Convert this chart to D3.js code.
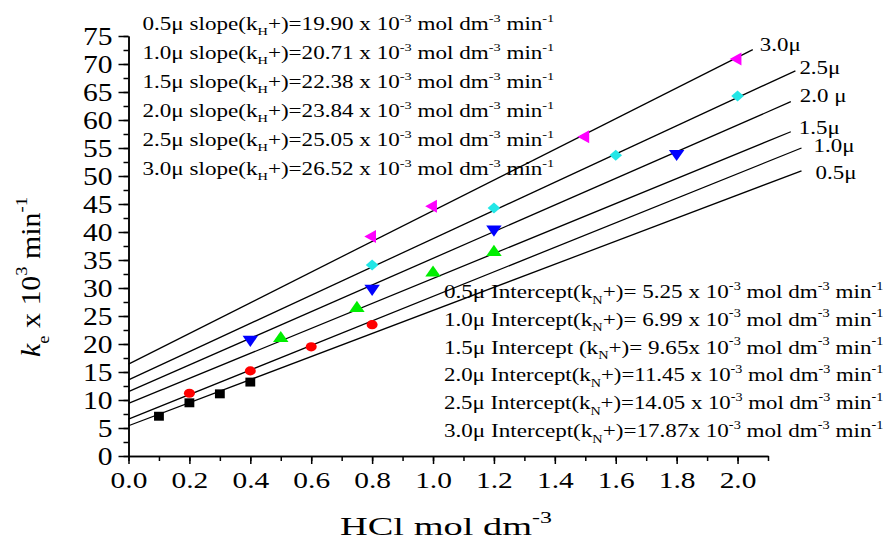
<!DOCTYPE html>
<html>
<head>
<meta charset="utf-8">
<script src="https://cdn.jsdelivr.net/npm/d3@7"></script>
<style>
  html, body { margin: 0; padding: 0; background: #fff; }
  svg text { white-space: pre; }
</style>
</head>
<body>
<svg id="chart" width="889" height="542"></svg>
<script>
// ---------------- data ----------------
const seriesNames = ["0.5μ", "1.0μ", "1.5μ", "2.0μ", "2.5μ", "3.0μ"];
const lineLabels  = ["0.5μ", "1.0μ", "1.5μ", "2.0 μ", "2.5μ", "3.0μ"];
const x05 = [0.1, 0.2, 0.3, 0.4],   y05 = [7.1, 9.5, 11.1, 13.2];
const x10 = [0.2, 0.4, 0.6, 0.8],   y10 = [11.2, 15.2, 19.5, 23.45];
const x15 = [0.5, 0.75, 1.0, 1.2],  y15 = [21.0, 26.4, 32.7, 36.4];
const x20 = [0.4, 0.8, 1.2, 1.8],   y20 = [20.8, 29.9, 40.5, 54.0];
const x25 = [0.8, 1.2, 1.6, 2.0],   y25 = [34.1, 44.3, 53.7, 64.3];
const x30 = [0.8, 1.0, 1.5, 2.0],   y30 = [39.2, 44.6, 57.0, 70.9];
// fitted lines as drawn in the picture
const lineIntercepts = [5.4, 6.6, 9.4, 11.5, 13.6, 16.4];
const lineSlopes     = [20.6, 21.9, 22.3, 23.8, 25.2, 27.4];
const lineXEnd       = [2.21, 2.21, 2.175, 2.175, 2.19, 2.05];
// annotation values
const slopeTexts = ["19.90", "20.71", "22.38", "23.84", "25.05", "26.52"];
const interceptPrefix = ["Intercept(k", "Intercept(k", "Intercept (k", "Intercept(k", "Intercept(k", "Intercept(k"];
const interceptTexts = ["= 5.25 x 10", "= 6.99 x 10", "= 9.65x 10", "=11.45 x 10", "=14.05 x 10", "=17.87x 10"];
const xTickValues = [0.0, 0.2, 0.4, 0.6, 0.8, 1.0, 1.2, 1.4, 1.6, 1.8, 2.0];
const yTickValues = [0, 5, 10, 15, 20, 25, 30, 35, 40, 45, 50, 55, 60, 65, 70, 75];

// ---------------- setup ----------------
const FONT = "'Liberation Serif','Times New Roman',Times,serif";
const colors = ["#000000", "#ff0000", "#00ee00", "#0000ff", "#22e6e6", "#ff00ff"];
const svg = d3.select("#chart");

const x = d3.scaleLinear().domain([0, 2.1]).range([128.5, 768]);
const y = d3.scaleLinear().domain([0, 75]).range([456, 36]);

function rich(parent, parts, o) {
  const g = parent.append("g");
  const t = g.append("text")
    .attr("font-family", FONT)
    .attr("font-size", o.size)
    .attr("fill", "#000")
    .attr("text-anchor", "start");
  let cur = 0;
  parts.forEach(p => {
    const ts = t.append("tspan").text(p.t);
    let target = 0;
    if (p.k === "sub") { ts.attr("font-size", o.size * 0.62); target = o.size * 0.3; }
    else if (p.k === "sup") { ts.attr("font-size", o.size * 0.62); target = -o.size * 0.45; }
    ts.attr("dy", target - cur);
    cur = target;
    if (p.i) ts.attr("font-style", "italic");
  });
  const w = t.node().getBBox().width;
  const s = o.width ? o.width / w : (o.sx || 1);
  const shift = o.anchor === "middle" ? -w / 2 : 0;
  if (o.rotate) {
    g.attr("transform", `translate(${o.x},${o.y}) scale(${o.sx || 1},${s}) rotate(-90) translate(${shift},0)`);
  } else {
    g.attr("transform", `translate(${o.x},${o.y}) scale(${s},1) translate(${shift},0)`);
  }
  return g;
}

// ---------------- axes ----------------
const axisG = svg.append("g");

// y minor
axisG.append("g").attr("transform", `translate(${x(0)},0)`)
  .call(d3.axisLeft(y).tickValues(d3.range(0, 31).map(i => i * 2.5)).tickSize(5).tickSizeOuter(0).tickFormat(""))
  .call(g => g.selectAll("line,path").attr("stroke", "#000").attr("stroke-width", 1.5));
// y major
const yAx = axisG.append("g").attr("transform", `translate(${x(0)},0)`)
  .call(d3.axisLeft(y).tickValues(yTickValues).tickSize(10).tickSizeOuter(0).tickPadding(0))
  .call(g => g.selectAll("line,path").attr("stroke", "#000").attr("stroke-width", 1.5));
yAx.selectAll("text")
  .attr("font-family", FONT).attr("font-size", 25.5).attr("fill", "#000")
  .attr("x", 0).attr("dy", "0.34em")
  .attr("transform", "translate(-16,0) scale(1.16,1)");

// x minor
axisG.append("g").attr("transform", `translate(0,${y(0)})`)
  .call(d3.axisBottom(x).tickValues(d3.range(0, 22).map(i => i / 10)).tickSize(5).tickSizeOuter(0).tickFormat(""))
  .call(g => g.selectAll("line,path").attr("stroke", "#000").attr("stroke-width", 1.5));
// x major
const xAx = axisG.append("g").attr("transform", `translate(0,${y(0)})`)
  .call(d3.axisBottom(x).tickValues(xTickValues).tickSize(8).tickSizeOuter(0).tickFormat(d3.format(".1f")))
  .call(g => g.selectAll("line,path").attr("stroke", "#000").attr("stroke-width", 1.5));
xAx.selectAll("text")
  .attr("font-family", FONT).attr("font-size", 23).attr("fill", "#000")
  .attr("y", 0).attr("dy", 0)
  .attr("transform", "translate(0,31.5) scale(1.28,1)");

// ---------------- fitted lines ----------------
const lineGen = d3.line().x(d => x(d[0])).y(d => y(d[1]));
seriesNames.forEach((n, i) => {
  const pts = [0, lineXEnd[i]].map(v => [v, lineIntercepts[i] + lineSlopes[i] * v]);
  svg.append("path").attr("d", lineGen(pts))
    .attr("fill", "none").attr("stroke", "#000").attr("stroke-width", 1.3);
});

// line end labels
const labelOffsets = [[14, 8], [12, 4], [8, 2], [9, 0], [4, 3], [7, 1]];
seriesNames.forEach((n, i) => {
  const xe = lineXEnd[i];
  const ye = lineIntercepts[i] + lineSlopes[i] * xe;
  rich(svg, [{t: lineLabels[i]}], {x: x(xe) + labelOffsets[i][0], y: y(ye) + labelOffsets[i][1], size: 18.5, sx: 1.24});
});

// ---------------- markers ----------------
const xs = [x05, x10, x15, x20, x25, x30];
const ys = [y05, y10, y15, y20, y25, y30];
const symDefs = [
  {type: d3.symbolSquare, size: 80, rot: 0, sx: 1.1},
  {type: d3.symbolCircle, size: 66, rot: 0, sx: 1.2},
  {type: d3.symbolTriangle, size: 72, rot: 0, sx: 1.2},
  {type: d3.symbolTriangle, size: 72, rot: 180, sx: 1.2},
  {type: d3.symbolSquare, size: 60, rot: 45, sx: 1.15},
  {type: d3.symbolTriangle, size: 72, rot: -90, sx: 1.05}
];
seriesNames.forEach((n, i) => {
  const pts = xs[i].map((v, j) => [v, ys[i][j]]);
  const sd = symDefs[i];
  svg.append("g").selectAll("path").data(pts).join("path")
    .attr("d", d3.symbol().type(sd.type).size(sd.size))
    .attr("transform", d => `translate(${x(d[0])},${y(d[1])}) scale(${sd.sx},1) rotate(${sd.rot})`)
    .attr("fill", colors[i]);
});

// ---------------- annotations ----------------
seriesNames.forEach((n, i) => {
  rich(svg, [
    {t: n + " slope(k"}, {t: "H", k: "sub"}, {t: "+)=" + slopeTexts[i] + " x 10"},
    {t: "-3", k: "sup"}, {t: " mol dm"}, {t: "-3", k: "sup"}, {t: " min"}, {t: "-1", k: "sup"}
  ], {x: 142.5, y: 30 + i * 29, size: 18, width: 412});
});
seriesNames.forEach((n, i) => {
  rich(svg, [
    {t: n + " " + interceptPrefix[i]}, {t: "N", k: "sub"}, {t: "+)" + interceptTexts[i]},
    {t: "-3", k: "sup"}, {t: " mol dm"}, {t: "-3", k: "sup"}, {t: " min"}, {t: "-1", k: "sup"}
  ], {x: 444, y: 298 + i * 27.8, size: 18.5, width: 440});
});

// ---------------- axis titles ----------------
rich(svg, [{t: "HCl mol dm"}, {t: "-3", k: "sup"}], {x: 340, y: 535, size: 26, width: 212});
rich(svg, [
  {t: "k", i: true}, {t: "e", k: "sub"}, {t: " x 10"}, {t: "3", k: "sup"}, {t: " min"}, {t: "-1", k: "sup"}
], {x: 40, y: 277, size: 27, anchor: "middle", rotate: true, sx: 1.05, width: 160});
</script>
</body>
</html>
